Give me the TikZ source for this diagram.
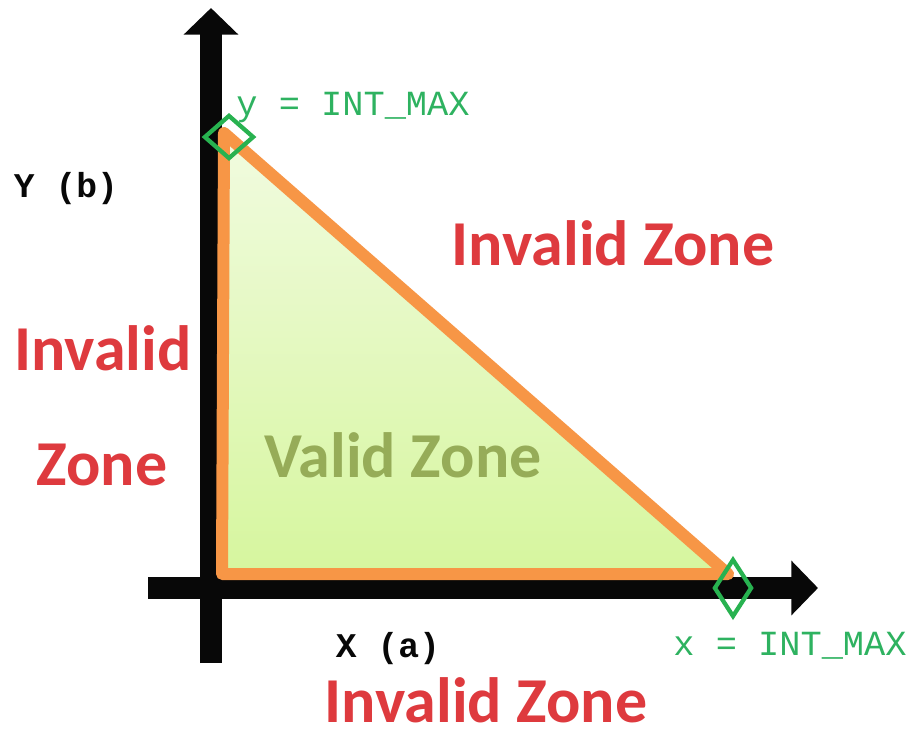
\documentclass[tikz,border=0pt]{standalone}
\usepackage{fontspec}
\usepackage{tikz}
\usetikzlibrary{arrows.meta,shapes.geometric}
\newfontfamily\zonefont{Carlito}
\newfontfamily\codefont{Liberation Mono}
\definecolor{zaxis}{RGB}{8,8,8}
\definecolor{zedge}{RGB}{247,150,70}
\definecolor{zfilltop}{RGB}{241,251,224}
\definecolor{zfillbot}{RGB}{214,246,158}
\definecolor{zcorner}{RGB}{40,178,80}
\definecolor{zred}{RGB}{222,58,62}
\definecolor{zvalid}{RGB}{150,172,88}
\definecolor{zcode}{RGB}{46,178,96}
\tikzset{
  axis/.style={draw=zaxis, line width=16.5pt, -{Triangle[length=20pt,width=40pt]}},
  edge/.style={draw=zedge, line width=9pt, line join=round},
  corner/.style={diamond, draw=zcorner, line width=3.2pt, inner sep=0pt},
  zonetext/.style={font=\zonefont\bfseries\fontsize{48}{52}\selectfont, text=zred, inner sep=0pt, anchor=base},
  validtext/.style={zonetext, text=zvalid},
  codetext/.style={font=\codefont\fontsize{26.5}{30}\selectfont, text=zcode, inner sep=0pt, anchor=base},
  axlabel/.style={font=\codefont\bfseries\fontsize{26}{30}\selectfont, text=zaxis, inner sep=0pt, anchor=base}
}
\begin{document}
\begin{tikzpicture}[x=0.75pt, y=-0.75pt]
  \useasboundingbox (0,0) rectangle (910,736);
  \coordinate (ybot) at (211,663);
  \coordinate (ytop) at (211,8);
  \coordinate (xleft) at (148,588);
  \coordinate (xright) at (818,588);
  \coordinate (apex) at (224,133);
  \coordinate (orig) at (222,574);
  \coordinate (xend) at (728,574);
  \draw[axis] (ybot) -- (ytop);
  \draw[axis] (xleft) -- (xright);
  \shade[top color=zfilltop, bottom color=zfillbot] (apex) -- (orig) -- (xend) -- cycle;
  \draw[edge] (apex) -- (orig) -- (xend) -- cycle;
  \node[corner, minimum width=37.5pt, minimum height=33pt] (ymax) at (229,137) {};
  \node[corner, minimum width=28.5pt, minimum height=43.5pt] (xmax) at (733,588) {};
  \node[codetext] (ylab) at (353,115) {y = INT\_MAX};
  \node[codetext] (xlab) at (790,655) {x = INT\_MAX};
  \node[axlabel] (yname) at (66,197) {Y (b)};
  \node[axlabel] (xname) at (388,657) {X (a)};
  \node[zonetext] (invtop) at (613,265) {Invalid Zone};
  \node[zonetext] (invleft) at (103,370) {Invalid};
  \node[zonetext] (invzone) at (102,485) {Zone};
  \node[validtext] (valid) at (403,477) {Valid Zone};
  \node[zonetext] (invbot) at (486,722) {Invalid Zone};
\end{tikzpicture}
\end{document}
